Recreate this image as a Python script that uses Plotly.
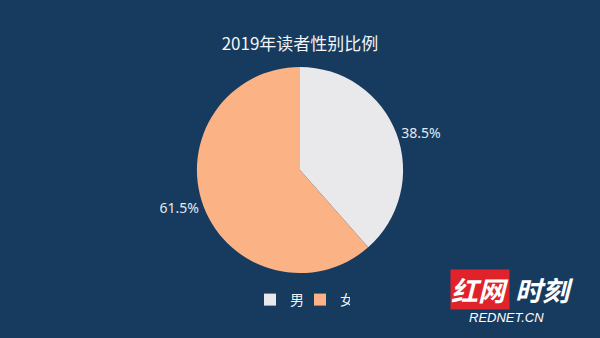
import plotly.graph_objects as go

labels = ["男", "女"]
values = [38.5, 61.5]
colors = ["#e9e9eb", "#fbb385"]
title_text = "2019年读者性别比例"

fig = go.Figure()
fig.add_trace(go.Pie(
    labels=labels,
    values=values,
    marker=dict(colors=colors, line=dict(width=0)),
    sort=False,
    direction="clockwise",
    rotation=0,
    textposition="outside",
    texttemplate="%{value}%",
    textfont=dict(color="#e6e9ee", size=14, family="Noto Sans"),
    domain=dict(x=[0.328, 0.672], y=[0.192, 0.802]),
    hoverinfo="label+percent",
))

fig.update_layout(
    width=600, height=338,
    margin=dict(l=0, r=0, t=0, b=0),
    paper_bgcolor="#173a5f",
    plot_bgcolor="#173a5f",
    title=dict(text=title_text, x=0.5, xanchor="center", y=1 - 44/338, yanchor="middle",
               font=dict(color="#f2f4f7", size=17, family="Noto Sans CJK SC")),
    showlegend=True,
    legend=dict(orientation="h", x=0.5, xanchor="center", y=(338-300)/338, yanchor="middle",
                font=dict(color="#f2f4f7", size=14, family="Noto Sans CJK SC"),
                bgcolor="rgba(0,0,0,0)", itemwidth=30, traceorder="normal",
                entrywidth=5, entrywidthmode="pixels"),
)

# watermark
fig.add_annotation(x=510/600, y=(338-289)/338, xref="paper", yref="paper", text="<b><i>红网</i></b>",
                   showarrow=False, font=dict(color="white", size=27, family="Noto Sans CJK SC"),
                   bgcolor="#e0232a", borderpad=0, xanchor="right", yanchor="middle")
fig.add_annotation(x=513/600, y=(338-289)/338, xref="paper", yref="paper", text="<b><i>时刻</i></b>",
                   showarrow=False, font=dict(color="white", size=27, family="Noto Sans CJK SC"),
                   xanchor="left", yanchor="middle")
fig.add_annotation(x=467/600, y=(338-317)/338, xref="paper", yref="paper", text="<i>REDNET.CN</i>",
                   showarrow=False, font=dict(color="white", size=13, family="Liberation Sans"),
                   xanchor="left", yanchor="middle")

fig.write_html("out.html")
